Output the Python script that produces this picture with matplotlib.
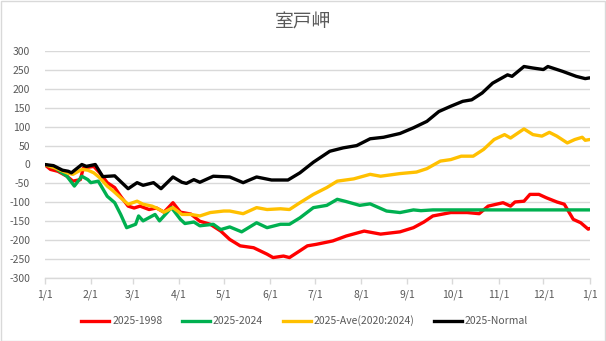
import matplotlib
matplotlib.use("Agg")
import matplotlib.pyplot as plt
from matplotlib.lines import Line2D
from matplotlib.patches import Rectangle

plt.rcParams['font.family'] = ['Noto Sans CJK JP', 'DejaVu Sans']

title = "室戸岬"
month_days = [0, 31, 59, 90, 120, 151, 181, 212, 243, 273, 304, 334, 365]
month_labels = ["1/1", "2/1", "3/1", "4/1", "5/1", "6/1", "7/1", "8/1", "9/1", "10/1", "11/1", "12/1", "1/1"]
y_ticks = [300, 250, 200, 150, 100, 50, 0, -50, -100, -150, -200, -250, -300]

series_names = ["2025-1998", "2025-2024", "2025-Ave(2020:2024)", "2025-Normal"]
series_colors = ["#FF0000", "#00B050", "#FFC000", "#000000"]

red_days = [0, 4, 9, 15, 19, 24, 26, 33, 37, 42, 47, 51, 56, 60, 64, 70, 75, 80, 86, 91, 98, 104,
            111, 118, 124, 131, 140, 149, 153, 160, 164, 171, 176, 182, 193, 202, 214, 225, 238,
            247, 254, 260, 272, 283, 291, 297, 307, 312, 315, 321, 325, 331, 336, 343, 348, 354, 359, 364, 365]
red_vals = [0, -13, -18, -31, -44, -40, -9, -5, -22, -48, -61, -84, -110, -115, -110, -119, -115, -126, -101, -126, -131, -150,
            -158, -176, -198, -215, -220, -237, -246, -242, -246, -228, -215, -211, -202, -189, -176, -184, -178,
            -167, -152, -136, -127, -127, -130, -110, -101, -110, -99, -97, -79, -79, -88, -99, -105, -145, -154, -171, -169]

green_days = [0, 7, 15, 20, 25, 29, 31, 36, 42, 47, 51, 55, 61, 63, 66, 74, 77, 85, 91, 94, 100, 104,
              113, 118, 124, 132, 142, 149, 158, 164, 171, 180, 189, 196, 202, 211, 218, 229, 238, 247, 252, 260, 300, 365]
green_vals = [0, -9, -31, -57, -31, -40, -48, -44, -84, -101, -132, -167, -158, -136, -149, -132, -149, -114, -145, -156, -152, -162,
              -158, -172, -165, -178, -154, -167, -158, -158, -141, -114, -108, -92, -98, -108, -104, -123, -127, -120, -122, -120, -120, -120]

orange_days = [0, 7, 15, 19, 25, 29, 33, 37, 42, 46, 51, 56, 62, 66, 72, 75, 80, 86, 92, 98, 104,
               111, 120, 124, 133, 142, 149, 158, 164, 171, 180, 189, 196, 207, 218, 225, 238,
               249, 256, 265, 272, 279, 287, 294, 301, 308, 312, 321, 327, 333, 338, 343, 350, 355, 360, 362, 365]
orange_vals = [0, -9, -22, -26, -13, -15, -22, -35, -57, -70, -88, -105, -97, -105, -110, -115, -126, -114, -132, -132, -136,
               -127, -123, -123, -130, -114, -119, -117, -119, -101, -79, -61, -44, -38, -26, -31, -24,
               -20, -11, 9, 13, 22, 22, 40, 66, 79, 70, 94, 79, 75, 85, 75, 57, 66, 72, 64, 66]

black_days = [0, 6, 12, 16, 18, 25, 28, 34, 39, 47, 56, 62, 66, 73, 78, 86, 92, 95, 100, 104,
              113, 124, 133, 142, 152, 163, 171, 180, 191, 200, 209, 218, 227, 238,
              247, 256, 264, 272, 280, 286, 293, 300, 310, 313, 321, 327, 334, 337, 347, 356, 362, 365]
black_vals = [0, -3, -15, -18, -22, 0, -5, 0, -32, -30, -64, -48, -55, -48, -64, -33, -47, -50, -40, -47,
              -31, -33, -48, -33, -41, -41, -22, 6, 35, 44, 50, 68, 72, 82,
              97, 114, 140, 154, 167, 171, 189, 215, 237, 233, 259, 255, 251, 259, 246, 233, 227, 229]

all_days = [red_days, green_days, orange_days, black_days]
all_vals = [red_vals, green_vals, orange_vals, black_vals]

W, H = 606, 341
fig = plt.figure(figsize=(W / 100, H / 100), dpi=100)
fig.patch.set_facecolor("white")
fig.add_artist(Rectangle((0.5 / W, 0.5 / H), 1 - 1.5 / W, 1 - 1.5 / H, transform=fig.transFigure,
                         fill=False, edgecolor="#D9D9D9", linewidth=1.0))

left, right = 44.5 / W, 589.7 / W
top, bottom = 1 - 51 / H, 1 - 278 / H
ax = fig.add_axes([left, bottom, right - left, top - bottom])

for d, v, c, n in zip(all_days, all_vals, series_colors, series_names):
    ax.plot(d, v, color=c, linewidth=2.4, label=n, solid_joinstyle="round", solid_capstyle="round", zorder=3)

ax.set_xlim(0, 365)
ax.set_ylim(-300, 300)
ax.set_yticks(y_ticks)
ax.set_yticklabels([str(t) for t in y_ticks])
ax.set_xticks(month_days)
ax.set_xticklabels(month_labels)
ax.grid(axis="y", color="#D9D9D9", linewidth=1.0, zorder=0)
ax.grid(axis="x", visible=False)
for s in ["top", "right", "left"]:
    ax.spines[s].set_visible(False)
ax.spines["bottom"].set_color("#D9D9D9")
ax.spines["bottom"].set_linewidth(1.0)
ax.tick_params(axis="y", length=0, pad=10.4, labelsize=7.5, labelcolor="#595959")
ax.tick_params(axis="x", length=4, width=1, color="#D9D9D9", pad=4, labelsize=7.5, labelcolor="#595959")

fig.text(0.5, 1 - 22 / H, title, ha="center", va="center", fontsize=13.5, color="#595959")

handles = [Line2D([0], [0], color=c, linewidth=2.4) for c in series_colors]
fig.legend(handles, series_names, loc="center", bbox_to_anchor=(0.503, 1 - 321 / H), ncol=4, frameon=False,
           fontsize=7.5, handlelength=2.7, handletextpad=0.25, columnspacing=1.9, labelcolor="#595959")

fig.savefig("out.png", dpi=100)
